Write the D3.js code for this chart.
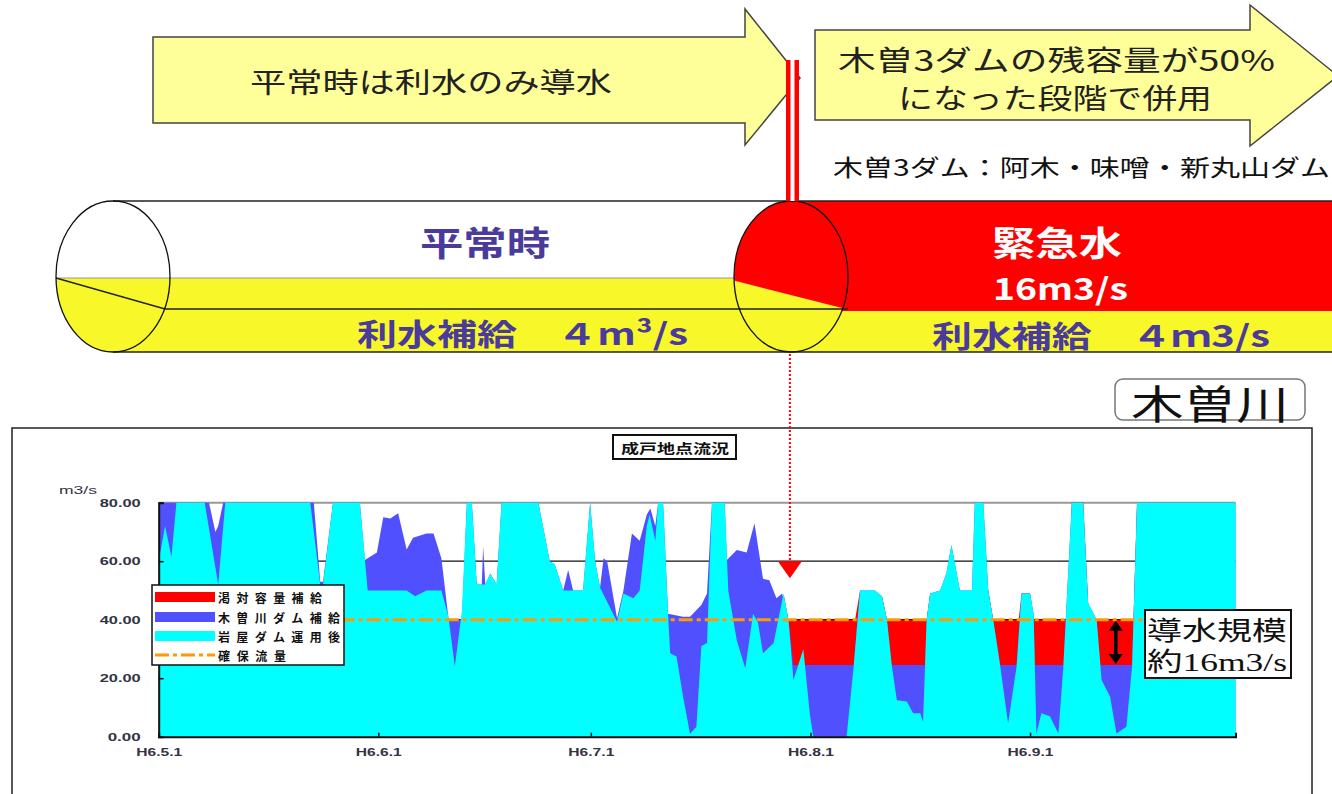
<!DOCTYPE html>
<html><head><meta charset="utf-8">
<script src="https://cdn.jsdelivr.net/npm/d3@7/dist/d3.min.js"></script>
<style>body{margin:0;background:#fff;} svg{display:block;}</style>
</head><body>
<svg id="c" width="1332" height="794"></svg>
<script>
// ---------- DATA (day offset from H6.5.1, flow m3/s) ----------
const xTickDays = [0, 31, 61, 92, 123];
const xTickLabels = ["H6.5.1", "H6.6.1", "H6.7.1", "H6.8.1", "H6.9.1"];
const yTickValues = [0, 20, 40, 60, 80];

// 岩屋ダム運用後 (cyan)
const cyanDay  = [0,0.9,1.8,2.5,6.5,8.4,9.4,21.4,22.8,23.2,24.6,28.4,29.5,35,36.2,37.8,39.9,40.9,41.8,42.8,43.5,44.2,44.9,46.1,46.8,47.7,48.4,53.6,55.2,55.9,57.1,59.9,60.9,61.6,62.3,64.7,65.6,67,67.9,68.9,69.3,70.1,70.5,71.2,71.9,72.2,73.1,74,75,75.9,76.6,77.4,78.1,79.9,80.4,81.6,82.8,83.9,84.6,85.3,86.8,88.2,88.9,89.6,91,91.9,92.4,97.1,98.1,99,101.1,102.1,102.8,103.5,104.2,105.6,106.5,107.5,107.9,108.4,108.9,110.3,111.2,111.9,113.1,114.8,115.2,116.4,117.1,117.8,118.8,119.9,121.1,121.8,123,123.5,123.9,124.6,125.8,127,127.7,128.9,130.5,131.2,132.4,133.1,134.3,135.2,136.6,137.4,138.1,152];
const cyanFlow = [60,72,61.5,80,80,52,80,80,52,52,80,80,50,50,48,50,50,41,24,43,80,80,52,52,55.8,52,80,80,60,59,50,50,80,60,51,39.3,49,47.3,50,72,76,67,80,80,42,28.5,27.4,14,1,3.4,31,32,80,80,50,33,23.4,42,39,28.5,32,49,40,19.4,30,8,0,0,24,50,50,48,40,24,12.5,12,8,8,5,40,49,50,56,65.5,50,50,80,80,50,40,24,4.6,24,49,49,42,1.1,8,7,1.1,24,80,80,45.6,40,19.4,13.7,1.1,3.4,24,80,80];

// 木曽川ダム補給 (blue, total incl. Kiso dam supply)
const blueDay  = [0,7.1,8,8.4,9.1,21.9,22.8,23.2,24.6,28.4,29.1,30.8,31.7,32.7,33.8,35,35.9,37.8,38.8,39.9,40.2,40.9,41.8,42.8,43.5,44.2,44.9,45.6,45.8,46.1,46.8,47.7,48.4,53.6,55.2,55.9,57.1,57.8,58.5,59.9,60.9,61.6,62.3,62.8,63.3,64.7,65.6,66.8,67.9,68.9,69.4,70.1,70.5,71.2,71.9,74,75,76.6,77.4,78.1,79.9,80.2,81.6,83,84.1,85.3,86.2,87.2,88,88.9,89.6,98.1,99,101.1,102.1,102.8,103.4,108.2,108.4,108.9,110.3,111.2,111.9,113.1,114.8,115.2,116.4,117.1,117.8,118.8,121.1,121.8,123,123.5,123.7,127.7,128.9,130.5,131.2,132.4,132.9,137.4,138.1,152];
const blueFlow = [80,80,70,72,80,80,53,53,80,80,60.4,63,75,74.6,76.4,64,68,69.5,69.5,61,55,40.5,40,40,80,80,52,52,65,52,55.8,52,80,80,60,59,50,57,50,50,80,60,51,61,60,40.5,50,69.5,67,76,78,72,80,80,42,41,41,45,49,80,80,60.4,63.8,63,73,54,53.5,47.3,49,40,24.5,24.5,50,50,48,40,24.5,24.5,40,49,50,56,65.5,50,50,80,80,50,40,24.5,24.5,49,49,42,24.5,24.5,80,80,45.6,40,24.5,24.5,80,80];

// 渇対容量補給 (red, total incl. emergency water)
const redDay  = [88.2,88.9,98.3,99,102.1,102.8,108.4,108.9,117.1,117.8,121.4,121.8,123,123.5,128.4,128.9,130.5,131.2,131.8,137.6,138.1];
const redFlow = [49,40,40,50,48,40,40,49,50,40,40,49,49,40,40,80,80,45.6,40,40,80];

// 確保流量
const securedFlow = 40;
const legendLabels = ["渇対容量補給", "木曽川ダム補給", "岩屋ダム運用後", "確保流量"];
const markerDay = 89.1;           // start of emergency water use
const arrowDay = 135.1;           // 導水規模 arrow
const emergencyBase = 24.5;

// ---------- DRAW ----------
const svg = d3.select("#c");
const JP = "'Noto Sans CJK JP','Noto Sans',sans-serif";
const LAT = "'Liberation Sans',Arial,sans-serif";
const purple = "#4a3a9c";

// Top arrows
const arrowFill = "#ffff99";
function arrowPath(x0, x1, xt, yT, yB, hT, hB, yc) {
  return `M${x0},${yT}L${x1},${yT}L${x1},${hT}L${xt},${yc}L${x1},${hB}L${x1},${yB}L${x0},${yB}Z`;
}
svg.append("path").attr("d", arrowPath(153, 745, 800, 37, 123, 9, 145, 78))
  .attr("fill", arrowFill).attr("stroke", "#444").attr("stroke-width", 1.5);
svg.append("path").attr("d", arrowPath(815, 1250, 1338, 30, 120, 5, 146, 76))
  .attr("fill", arrowFill).attr("stroke", "#444").attr("stroke-width", 1.5);

function stext(x, y, w, size, fill, t, opts) {
  opts = opts || {};
  return svg.append("text").attr("x", x).attr("y", y).attr("textLength", w).attr("lengthAdjust", "spacingAndGlyphs")
    .attr("font-family", opts.family || JP).attr("font-size", size).attr("font-weight", opts.weight || "normal")
    .attr("text-anchor", opts.anchor || "start")
    .attr("dominant-baseline", "central").attr("fill", fill).text(t);
}
stext(250, 81, 362, 28, "#222", "平常時は利水のみ導水");
stext(838, 59, 437, 28, "#222", "木曽3ダムの残容量が50%");
stext(898, 97, 314, 28, "#222", "になった段階で併用");
stext(833, 166, 497, 23, "#111", "木曽3ダム：阿木・味噌・新丸山ダム");

// Pipe
const pTop = 201, pBot = 352, pcy = (pTop + pBot) / 2, pry = (pBot - pTop) / 2, prx = 57;
const yellow = "#f7f72a";
const lcx = 113, mcx = 791;
svg.append("rect").attr("x", mcx).attr("y", pTop).attr("width", 560).attr("height", pBot - pTop).attr("fill", "#ff0000");
svg.append("rect").attr("x", mcx).attr("y", 311).attr("width", 560).attr("height", pBot - 311).attr("fill", yellow);
svg.append("rect").attr("x", lcx).attr("y", pTop).attr("width", mcx - lcx).attr("height", pBot - pTop).attr("fill", "#fff");
svg.append("rect").attr("x", lcx).attr("y", 278).attr("width", mcx - lcx).attr("height", pBot - 278).attr("fill", yellow);
const clipL = svg.append("clipPath").attr("id", "clipL");
clipL.append("ellipse").attr("cx", lcx).attr("cy", pcy).attr("rx", prx).attr("ry", pry);
svg.append("rect").attr("x", lcx - prx).attr("y", 278).attr("width", prx * 2).attr("height", 80)
  .attr("fill", yellow).attr("clip-path", "url(#clipL)");
const clipM = svg.append("clipPath").attr("id", "clipM");
clipM.append("ellipse").attr("cx", mcx).attr("cy", pcy).attr("rx", prx).attr("ry", pry);
svg.append("rect").attr("x", mcx - prx).attr("y", pTop).attr("width", prx * 2).attr("height", pBot - pTop)
  .attr("fill", yellow).attr("clip-path", "url(#clipM)");
svg.append("path").attr("d", `M${mcx - prx - 2},${pTop}L${mcx + prx + 2},${pTop}L${mcx + prx + 2},310L${mcx - prx - 2},280Z`)
  .attr("fill", "#ff0000").attr("clip-path", "url(#clipM)");
svg.append("line").attr("x1", lcx).attr("x2", 1340).attr("y1", pTop).attr("y2", pTop).attr("stroke", "#222").attr("stroke-width", 1.5);
svg.append("line").attr("x1", lcx).attr("x2", 1340).attr("y1", pBot).attr("y2", pBot).attr("stroke", "#222").attr("stroke-width", 1.5);
svg.append("line").attr("x1", lcx - prx).attr("x2", mcx - prx).attr("y1", 278).attr("y2", 278).attr("stroke", "#999").attr("stroke-width", 1);
svg.append("path").attr("d", `M${lcx - prx},278L165,309L${mcx + prx},309`).attr("fill", "none").attr("stroke", "#222").attr("stroke-width", 1.3);
svg.append("ellipse").attr("cx", lcx).attr("cy", pcy).attr("rx", prx).attr("ry", pry).attr("fill", "none").attr("stroke", "#111").attr("stroke-width", 1.3);
svg.append("ellipse").attr("cx", mcx).attr("cy", pcy).attr("rx", prx).attr("ry", pry).attr("fill", "none").attr("stroke", "#111").attr("stroke-width", 1.3);

stext(420, 241, 130, 34, purple, "平常時", { weight: "bold" });
stext(357, 332, 331, 30, purple, "利水補給\u3000４m³/s", { weight: "bold" });
stext(992, 241, 130, 34, "#fff", "緊急水", { weight: "bold" });
stext(993, 287, 135, 30, "#fff", "16m3/s", { weight: "bold" });
stext(932, 334, 338, 30, purple, "利水補給\u3000４ｍ3/s", { weight: "bold" });

// top red double marker line
svg.append("rect").attr("x", 786).attr("y", 60).attr("width", 13).attr("height", pTop - 60).attr("fill", "#ff0000");
svg.append("rect").attr("x", 790.5).attr("y", 60).attr("width", 4).attr("height", pTop - 60).attr("fill", "#fff");

// 木曽川 label box
svg.append("rect").attr("x", 1115).attr("y", 379).attr("width", 190).attr("height", 41).attr("rx", 8)
  .attr("fill", "#fff").attr("stroke", "#777").attr("stroke-width", 1.5);
stext(1131, 402, 158, 40, "#111", "木曽川");

// ---------- CHART ----------
svg.append("rect").attr("x", 12).attr("y", 428).attr("width", 1300).attr("height", 400)
  .attr("fill", "#fff").attr("stroke", "#222").attr("stroke-width", 1.5);
svg.append("rect").attr("x", 613).attr("y", 435).attr("width", 123).attr("height", 24)
  .attr("fill", "#fff").attr("stroke", "#111").attr("stroke-width", 2);
stext(621, 447.5, 108, 13, "#111", "成戸地点流況", { weight: "bold" });

const x = d3.scaleLinear().domain([0, 152]).range([158.7, 1235.5]);
const y = d3.scaleLinear().domain([0, 80]).range([736.7, 502.7]);

svg.append("g").selectAll("line").data(yTickValues.filter(v => v > 0)).join("line")
  .attr("x1", x(0)).attr("x2", x(152)).attr("y1", d => y(d)).attr("y2", d => y(d))
  .attr("stroke", d => d === 80 ? "#999" : "#111").attr("stroke-width", d => d === 80 ? 2 : 1.2);

function series(days, vals) { return days.map((d, i) => ({ d, v: Math.min(80, vals[i]) })); }
const area = d3.area().x(p => x(p.d)).y0(y(0)).y1(p => y(p.v));
svg.append("path").datum(series(redDay, redFlow)).attr("d", area).attr("fill", "#ff0000");
svg.append("path").datum(series(blueDay, blueFlow)).attr("d", area).attr("fill", "#5050ff");
svg.append("path").datum(series(cyanDay, cyanFlow)).attr("d", area).attr("fill", "#00ffff");

svg.append("line").attr("x1", x(0)).attr("x2", 1146).attr("y1", y(securedFlow)).attr("y2", y(securedFlow))
  .attr("stroke", "#ff9a00").attr("stroke-width", 3).attr("stroke-dasharray", "14,4,4,4");

// axes
const yAxis = svg.append("g").attr("transform", `translate(${x(0)},0)`)
  .call(d3.axisLeft(y).tickValues(yTickValues).tickFormat(d3.format(".2f")).tickSize(-5).tickPadding(18));
yAxis.select(".domain").attr("stroke", "#111").attr("stroke-width", 2);
yAxis.selectAll("line").attr("stroke", "#111").attr("stroke-width", 1.5);
yAxis.selectAll("text").attr("font-family", LAT).attr("font-size", 11).attr("fill", "#334").attr("font-weight", "bold")
  .attr("textLength", d => d === 0 ? 33 : 41).attr("lengthAdjust", "spacingAndGlyphs");

const xAxis = svg.append("g").attr("transform", `translate(0,${y(0)})`)
  .call(d3.axisBottom(x).tickValues(xTickDays).tickFormat((d, i) => xTickLabels[i]).tickSize(-4).tickPadding(12));
xAxis.select(".domain").attr("stroke", "#111").attr("stroke-width", 2);
xAxis.selectAll("line").attr("stroke", "#111").attr("stroke-width", 1.5);
xAxis.selectAll("text").attr("font-family", LAT).attr("font-size", 11).attr("fill", "#334").attr("font-weight", "bold")
  .attr("textLength", 46).attr("lengthAdjust", "spacingAndGlyphs");

stext(78, 490, 38, 10, "#334", "m3/s", { family: LAT, anchor: "middle" });

// legend
const lg = svg.append("g");
lg.append("rect").attr("x", 152).attr("y", 585).attr("width", 192).attr("height", 80)
  .attr("fill", "#fff").attr("stroke", "#111").attr("stroke-width", 1.5);
const legColors = ["#ff0000", "#5050ff", "#00ffff", null];
const legY = [597, 617, 636, 655];
legendLabels.forEach((lab, i) => {
  if (legColors[i]) {
    lg.append("rect").attr("x", 155).attr("y", legY[i] - 5).attr("width", 60).attr("height", 10).attr("fill", legColors[i]);
  } else {
    lg.append("line").attr("x1", 155).attr("x2", 215).attr("y1", legY[i]).attr("y2", legY[i])
      .attr("stroke", "#ff9a00").attr("stroke-width", 3).attr("stroke-dasharray", "14,4,4,4");
  }
  lg.append("text").attr("x", 218).attr("y", legY[i]).attr("dominant-baseline", "central")
    .attr("textLength", lab.length * 18 - 4).attr("lengthAdjust", "spacing")
    .attr("font-family", JP).attr("font-weight", "bold").attr("font-size", 12).attr("fill", "#111").text(lab);
});

// marker
svg.append("line").attr("x1", x(markerDay)).attr("x2", x(markerDay)).attr("y1", pBot + 2).attr("y2", y(60))
  .attr("stroke", "#ff0000").attr("stroke-width", 2).attr("stroke-dasharray", "2,2");
svg.append("path").attr("d", `M${x(markerDay) - 12},${y(60)}L${x(markerDay) + 12},${y(60)}L${x(markerDay)},${y(60) + 17}Z`)
  .attr("fill", "#ff0000");

// double arrow
const ax = x(arrowDay), aTop = y(securedFlow) + 1, aBot = y(emergencyBase) - 1;
svg.append("line").attr("x1", ax).attr("x2", ax).attr("y1", aTop + 8).attr("y2", aBot - 8).attr("stroke", "#000").attr("stroke-width", 3.5);
svg.append("path").attr("d", `M${ax},${aTop}L${ax - 7},${aTop + 10}L${ax + 7},${aTop + 10}Z`).attr("fill", "#000");
svg.append("path").attr("d", `M${ax},${aBot}L${ax - 7},${aBot - 10}L${ax + 7},${aBot - 10}Z`).attr("fill", "#000");

// annotation box
svg.append("rect").attr("x", 1145).attr("y", 610).attr("width", 146).attr("height", 68)
  .attr("fill", "#fff").attr("stroke", "#111").attr("stroke-width", 2);
stext(1147, 628, 140, 26, "#111", "導水規模", { family: "'Noto Sans CJK JP',serif" });
stext(1147, 662, 140, 26, "#111", "約16m3/s", { family: "'Liberation Serif','Noto Sans CJK JP',serif" });
</script>
</body></html>
